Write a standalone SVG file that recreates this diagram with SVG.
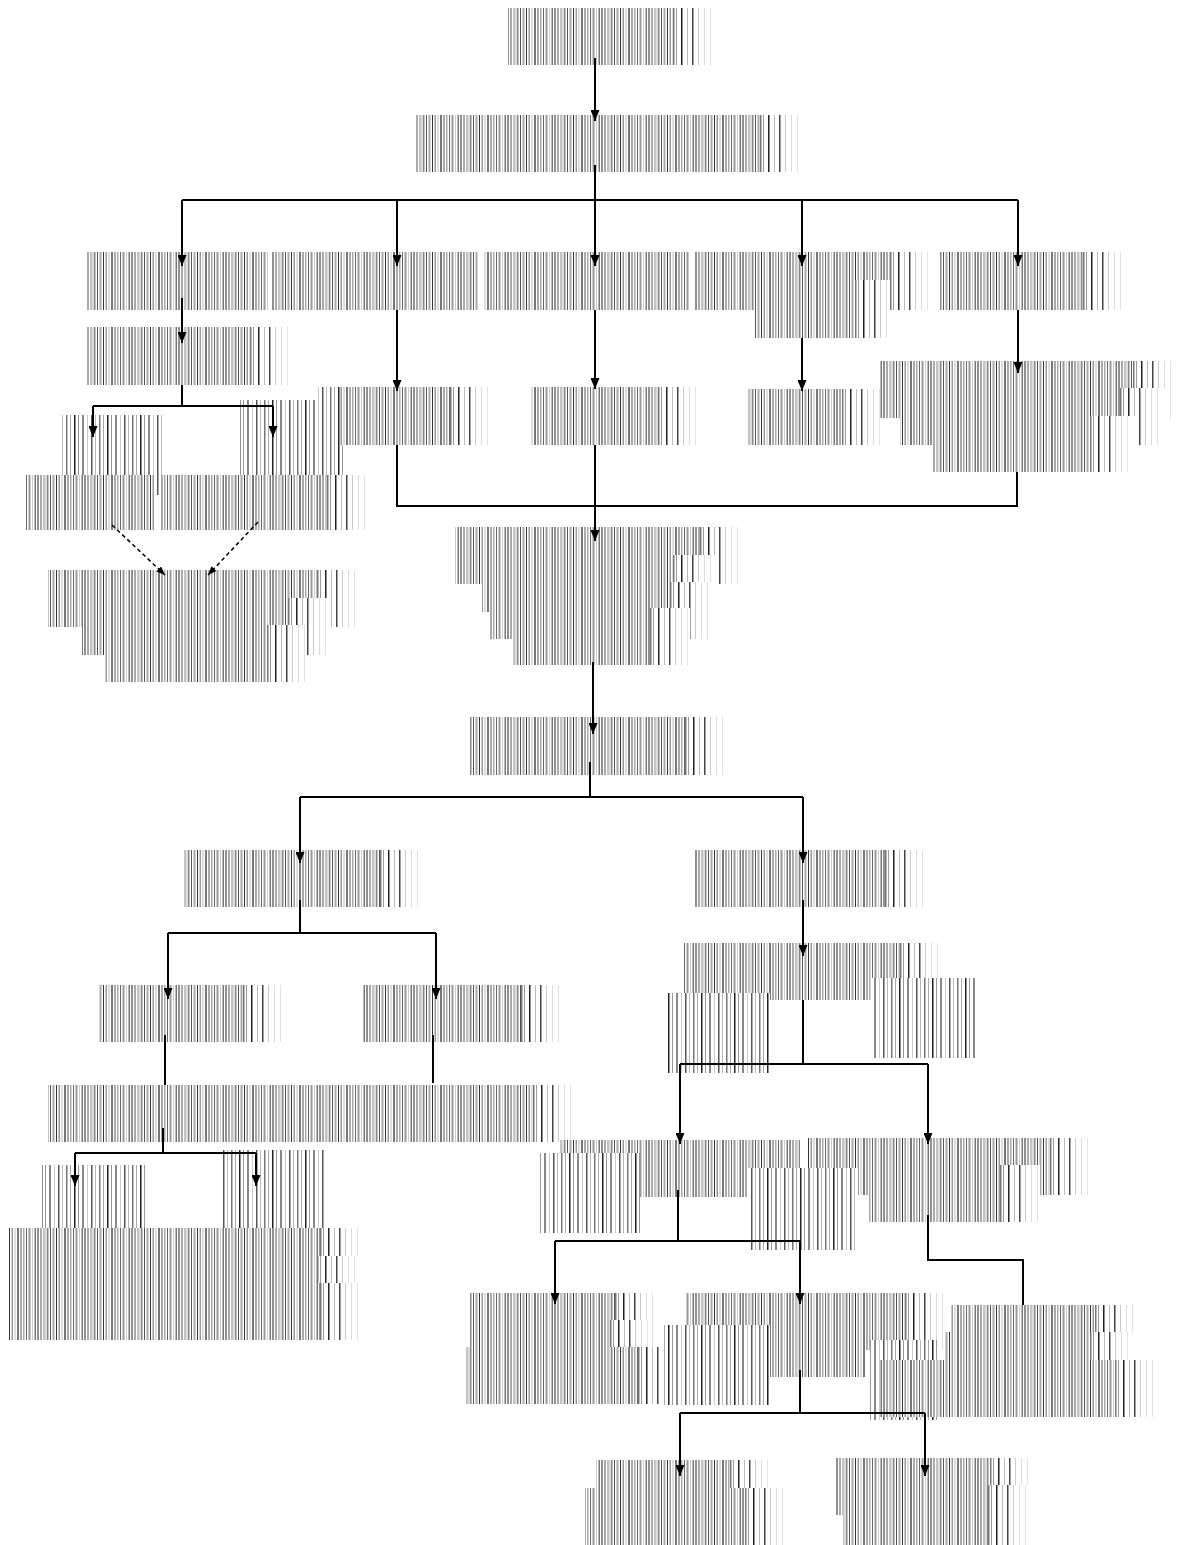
<svg xmlns="http://www.w3.org/2000/svg" width="1183" height="1545" viewBox="0 0 1183 1545">
  <defs>
    <!-- dense bar texture used for label strips -->
    <pattern id="bars" patternUnits="userSpaceOnUse" width="47" height="10">
      <rect width="47" height="10" fill="#fff"/>
      <rect x="0" width="1.5" height="10" fill="#888"/>
      <rect x="3" width="1" height="10" fill="#555"/>
      <rect x="5.5" width="2" height="10" fill="#aaa"/>
      <rect x="9" width="1" height="10" fill="#333"/>
      <rect x="11.5" width="1.5" height="10" fill="#999"/>
      <rect x="14.5" width="1" height="10" fill="#bbb"/>
      <rect x="17" width="2" height="10" fill="#777"/>
      <rect x="20.5" width="1" height="10" fill="#555"/>
      <rect x="23" width="1.5" height="10" fill="#aaa"/>
      <rect x="26" width="1" height="10" fill="#666"/>
      <rect x="28.5" width="2" height="10" fill="#999"/>
      <rect x="32" width="1" height="10" fill="#ccc"/>
      <rect x="34.5" width="1.5" height="10" fill="#777"/>
      <rect x="37.5" width="1" height="10" fill="#222"/>
      <rect x="40" width="2" height="10" fill="#aaa"/>
      <rect x="43.5" width="1" height="10" fill="#888"/>
      <rect x="45.5" width="1" height="10" fill="#bbb"/>
    </pattern>
    <!-- sparse bar texture for tall narrow strips -->
    <pattern id="sparse" patternUnits="userSpaceOnUse" width="33" height="10">
      <rect width="33" height="10" fill="#fff"/>
      <rect x="0" width="1.5" height="10" fill="#777"/>
      <rect x="4" width="1" height="10" fill="#aaa"/>
      <rect x="8" width="1.5" height="10" fill="#222"/>
      <rect x="12" width="1" height="10" fill="#999"/>
      <rect x="16" width="2" height="10" fill="#888"/>
      <rect x="21" width="1" height="10" fill="#ccc"/>
      <rect x="25" width="1.5" height="10" fill="#555"/>
      <rect x="29" width="1" height="10" fill="#bbb"/>
    </pattern>
    <!-- fading end of each strip -->
    <pattern id="tail" patternUnits="objectBoundingBox" x="0" y="0" width="1" height="1">
      <rect width="45" height="80" fill="#fff"/>
      <rect x="0" width="1.5" height="80" fill="#777"/>
      <rect x="3" width="1" height="80" fill="#999"/>
      <rect x="8" width="1.5" height="80" fill="#222"/>
      <rect x="14" width="1" height="80" fill="#bbb"/>
      <rect x="19" width="1.5" height="80" fill="#444"/>
      <rect x="25" width="1" height="80" fill="#ccc"/>
      <rect x="31" width="1" height="80" fill="#ddd"/>
      <rect x="37" width="1" height="80" fill="#e2e2e2"/>
    </pattern>
    <marker id="arr" viewBox="0 0 11 9" markerWidth="11" markerHeight="9" refX="11" refY="4.5" orient="auto" markerUnits="userSpaceOnUse">
      <path d="M0,0 L11,4.5 L0,9 z" fill="#000"/>
    </marker>
    <marker id="arrd" viewBox="0 0 10 8" markerWidth="9" markerHeight="7" refX="10" refY="4" orient="auto" markerUnits="userSpaceOnUse">
      <path d="M0,0 L10,4 L0,8 z" fill="#000"/>
    </marker>
  </defs>
  <style>
    .b { fill: url(#bars); }
    .s { fill: url(#sparse); }
    .t { fill: url(#tail); }
    .c { fill: none; stroke: #000; stroke-width: 2; }
    .a { marker-end: url(#arr); }
    .d { fill: none; stroke: #000; stroke-width: 1.5; stroke-dasharray: 4 3; marker-end: url(#arrd); }
  </style>
  <rect width="1183" height="1545" fill="#fff"/>

  <!-- top chain -->
  <g id="n0"><rect class="b" x="508" y="8" width="165" height="57"/><rect class="t" x="673" y="8" width="45" height="57"/></g>
  <g id="n1"><rect class="b" x="415" y="115" width="345" height="57"/><rect class="t" x="760" y="115" width="45" height="57"/></g>

  <!-- five branches -->
  <g id="n2a"><rect class="b" x="87" y="252" width="181" height="58"/></g>
  <g id="n2b"><rect class="b" x="272" y="252" width="206" height="58"/></g>
  <g id="n2c"><rect class="b" x="484" y="252" width="206" height="58"/></g>
  <g id="n2d"><rect class="b" x="695" y="252" width="195" height="58"/><rect class="t" x="890" y="252" width="45" height="58"/><rect class="b" x="755" y="280" width="100" height="58"/><rect class="t" x="855" y="280" width="35" height="58"/></g>
  <g id="n2e"><rect class="b" x="940" y="252" width="143" height="58"/><rect class="t" x="1083" y="252" width="45" height="58"/></g>

  <!-- left sub-branch -->
  <g id="n3"><rect class="b" x="87" y="327" width="163" height="58"/><rect class="t" x="250" y="327" width="45" height="58"/></g>
  <g id="n4a"><rect class="s" x="60" y="415" width="105" height="80"/><rect class="b" x="25" y="475" width="130" height="55"/></g>
  <g id="n4b"><rect class="s" x="240" y="400" width="105" height="80"/><rect class="b" x="160" y="475" width="167" height="55"/><rect class="t" x="327" y="475" width="45" height="55"/></g>
  <g id="n5"><rect class="b" x="48" y="570" width="269" height="57"/><rect class="t" x="317" y="570" width="45" height="57"/><rect class="b" x="82" y="598" width="206" height="57"/><rect class="t" x="288" y="598" width="40" height="57"/><rect class="b" x="105" y="625" width="162" height="57"/><rect class="t" x="267" y="625" width="40" height="57"/></g>

  <!-- second level -->
  <g id="n6"><rect class="s" x="318" y="387" width="22" height="58"/><rect class="b" x="340" y="387" width="110" height="58"/><rect class="t" x="450" y="387" width="45" height="58"/></g>
  <g id="n7"><rect class="b" x="530" y="387" width="128" height="58"/><rect class="t" x="658" y="387" width="45" height="58"/></g>
  <g id="n8"><rect class="b" x="747" y="389" width="95" height="56"/><rect class="t" x="842" y="389" width="40" height="56"/></g>
  <g id="n9"><rect class="b" x="880" y="361" width="253" height="57"/><rect class="t" x="1133" y="361" width="45" height="57"/><rect class="b" x="900" y="388" width="220" height="57"/><rect class="t" x="1120" y="388" width="45" height="57"/><rect class="b" x="932" y="416" width="158" height="56"/><rect class="t" x="1090" y="416" width="45" height="56"/></g>

  <!-- merge node -->
  <g id="nM"><rect class="b" x="455" y="527" width="245" height="57"/><rect class="t" x="700" y="527" width="45" height="57"/><rect class="b" x="482" y="555" width="191" height="57"/><rect class="t" x="673" y="555" width="45" height="57"/><rect class="b" x="490" y="582" width="180" height="57"/><rect class="t" x="670" y="582" width="45" height="57"/><rect class="b" x="513" y="608" width="137" height="57"/><rect class="t" x="650" y="608" width="40" height="57"/></g>
  <g id="nN"><rect class="b" x="470" y="717" width="215" height="58"/><rect class="t" x="685" y="717" width="45" height="58"/></g>

  <!-- lower left tree -->
  <g id="nL1"><rect class="b" x="183" y="850" width="197" height="57"/><rect class="t" x="380" y="850" width="45" height="57"/></g>
  <g id="nL2a"><rect class="b" x="98" y="985" width="145" height="57"/><rect class="t" x="243" y="985" width="45" height="57"/></g>
  <g id="nL2b"><rect class="b" x="363" y="985" width="158" height="57"/><rect class="t" x="521" y="985" width="45" height="57"/></g>
  <g id="nL3"><rect class="b" x="48" y="1085" width="485" height="57"/><rect class="t" x="533" y="1085" width="45" height="57"/></g>
  <g id="nL4"><rect class="s" x="42" y="1165" width="106" height="80"/><rect class="s" x="222" y="1150" width="103" height="80"/><rect class="b" x="8" y="1228" width="312" height="57"/><rect class="t" x="320" y="1228" width="45" height="57"/><rect class="b" x="10" y="1256" width="307" height="57"/><rect class="t" x="317" y="1256" width="45" height="57"/><rect class="b" x="8" y="1283" width="312" height="57"/><rect class="t" x="320" y="1283" width="45" height="57"/></g>

  <!-- lower right tree -->
  <g id="nR1"><rect class="b" x="695" y="850" width="190" height="57"/><rect class="t" x="885" y="850" width="45" height="57"/></g>
  <g id="nR2"><rect class="b" x="684" y="943" width="216" height="57"/><rect class="t" x="900" y="943" width="45" height="57"/><rect class="s" x="872" y="978" width="103" height="80"/><rect class="s" x="667" y="993" width="103" height="80"/></g>
  <g id="nR3a"><rect class="b" x="560" y="1140" width="240" height="57"/><rect class="s" x="540" y="1153" width="100" height="80"/></g>
  <g id="nR3b"><rect class="b" x="808" y="1138" width="242" height="57"/><rect class="t" x="1050" y="1138" width="45" height="57"/><rect class="b" x="868" y="1165" width="132" height="57"/><rect class="t" x="1000" y="1165" width="40" height="57"/><rect class="s" x="748" y="1168" width="110" height="82"/></g>
  <g id="nR4a"><rect class="b" x="470" y="1293" width="145" height="57"/><rect class="t" x="615" y="1293" width="45" height="57"/><rect class="b" x="470" y="1320" width="140" height="57"/><rect class="t" x="610" y="1320" width="40" height="57"/><rect class="b" x="465" y="1347" width="173" height="57"/><rect class="t" x="638" y="1347" width="45" height="57"/></g>
  <g id="nR4b"><rect class="b" x="685" y="1293" width="220" height="57"/><rect class="t" x="905" y="1293" width="45" height="57"/><rect class="s" x="663" y="1325" width="107" height="80"/><rect class="b" x="770" y="1320" width="95" height="57"/></g>
  <g id="nR4c"><rect class="b" x="950" y="1305" width="145" height="57"/><rect class="t" x="1095" y="1305" width="45" height="57"/><rect class="b" x="945" y="1332" width="145" height="57"/><rect class="t" x="1090" y="1332" width="45" height="57"/><rect class="s" x="870" y="1340" width="70" height="80"/><rect class="b" x="880" y="1360" width="235" height="57"/><rect class="t" x="1115" y="1360" width="45" height="57"/></g>
  <g id="nR5a"><rect class="b" x="595" y="1460" width="135" height="57"/><rect class="t" x="730" y="1460" width="45" height="57"/><rect class="b" x="585" y="1488" width="160" height="57"/><rect class="t" x="745" y="1488" width="45" height="57"/></g>
  <g id="nR5b"><rect class="b" x="835" y="1458" width="155" height="57"/><rect class="t" x="990" y="1458" width="45" height="57"/><rect class="b" x="843" y="1485" width="145" height="60"/><rect class="t" x="988" y="1485" width="45" height="60"/></g>

  <!-- connectors -->
  <g id="connectors">
    <path class="c a" d="M595,58 V121"/>
    <path class="c" d="M595,165 V200 M182,200 H1018"/>
    <path class="c a" d="M182,200 V266"/>
    <path class="c a" d="M397,200 V266"/>
    <path class="c a" d="M595,200 V266"/>
    <path class="c a" d="M802,200 V266"/>
    <path class="c a" d="M1018,200 V266"/>
    <path class="c a" d="M182,298 V343"/>
    <path class="c" d="M182,385 V406 M93,406 H273"/>
    <path class="c a" d="M93,406 V437"/>
    <path class="c a" d="M273,406 V437"/>
    <path class="d" d="M112,525 L165,575"/>
    <path class="d" d="M258,522 L208,575"/>
    <path class="c a" d="M397,310 V391"/>
    <path class="c a" d="M595,310 V389"/>
    <path class="c a" d="M802,338 V391"/>
    <path class="c a" d="M1018,310 V373"/>
    <path class="c" d="M397,445 V506 H1017 V472"/>
    <path class="c a" d="M595,445 V541"/>
    <path class="c a" d="M593,662 V734"/>
    <path class="c" d="M590,762 V797 M300,797 H803"/>
    <path class="c a" d="M300,797 V863"/>
    <path class="c a" d="M803,797 V863"/>
    <path class="c" d="M300,900 V933 M168,933 H436"/>
    <path class="c a" d="M168,933 V999"/>
    <path class="c a" d="M436,933 V999"/>
    <path class="c" d="M165,1035 V1085"/>
    <path class="c" d="M433,1035 V1083"/>
    <path class="c" d="M163,1128 V1153 M75,1153 H256"/>
    <path class="c a" d="M75,1153 V1186"/>
    <path class="c a" d="M256,1153 V1186"/>
    <path class="c a" d="M803,900 V956"/>
    <path class="c" d="M803,1000 V1064 M680,1064 H928"/>
    <path class="c a" d="M680,1064 V1144"/>
    <path class="c a" d="M928,1064 V1144"/>
    <path class="c" d="M678,1190 V1241 M555,1241 H800"/>
    <path class="c a" d="M555,1241 V1304"/>
    <path class="c a" d="M800,1241 V1304"/>
    <path class="c" d="M928,1215 V1260 H1023 V1305"/>
    <path class="c" d="M800,1370 V1413 M680,1413 H925"/>
    <path class="c a" d="M680,1413 V1476"/>
    <path class="c a" d="M925,1413 V1476"/>
  </g>
</svg>
